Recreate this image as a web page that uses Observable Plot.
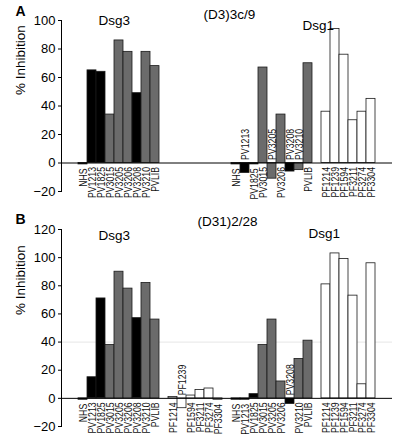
<!DOCTYPE html>
<html><head><meta charset="utf-8">
<script src="https://cdn.jsdelivr.net/npm/d3@7"></script>
<script src="https://cdn.jsdelivr.net/npm/@observablehq/plot@0.6"></script>
<style>
body{margin:0;background:#fff;}
#chart svg{display:block;overflow:visible;}
</style></head><body><div id="chart"></div>
<script>
// ---- data ----
const groups = ["Dsg3", "Dsg1"];
const pvClones = ["NHS","PV1213","PV1825","PV3015","PV3205","PV3206","PV3208","PV3210","PVLIB"];
const pfClones = ["PF1214","PF1239","PF1594","PF3211","PF3274","PF3304"];
const pvKinds = ["control","mucosal","mucosal","mucocutaneous","mucocutaneous","mucocutaneous","mucosal","mucocutaneous","mucocutaneous"];
const pfKind = "foliaceus";
const kindDomain = ["control","mucosal","mucocutaneous","foliaceus"];

const mabA = "(D3)3c/9";
const aDsg3PV = [-1, 65, 64, 34, 86, 78, 49, 78, 68];
const aDsg3PF = [null, null, null, null, null, null];
const aDsg1PV = [-1, -7, -1, 67, -11, 34, -6, -5, 70];
const aDsg1PF = [36, 94, 76, 30, 36, 45];
const yTicksA = [-20, 0, 20, 40, 60, 80, 100];

const mabB = "(D31)2/28";
const bDsg3PV = [-1, 15, 71, 38, 90, 78, 57, 82, 56];
const bDsg3PF = [1, -7, 2, 6, 7, -1];
const bDsg1PV = [-1, -1, 3, 38, 56, 12, -4, 28, 41];
const bDsg1PF = [81, 103, 99, 73, 10, 96];
const yTicksB = [-20, 0, 20, 40, 60, 80, 100, 120];

// ---- build slots ----
const slots = [];
groups.forEach((g, gi) => {
  pvClones.forEach(c => slots.push(g + "|" + c));
  slots.push(g + "|gap");
  pfClones.forEach(c => slots.push(g + "|" + c));
  if (gi < groups.length - 1) slots.push("between|gap");
});

function rows(pv3, pf3, pv1, pf1) {
  const out = [];
  [[pv3, pf3], [pv1, pf1]].forEach(([pv, pf], gi) => {
    pv.forEach((v, i) => { if (v != null) out.push({key: groups[gi] + "|" + pvClones[i], clone: pvClones[i], v, kind: pvKinds[i]}); });
    pf.forEach((v, i) => { if (v != null) out.push({key: groups[gi] + "|" + pfClones[i], clone: pfClones[i], v, kind: pfKind}); });
  });
  return out;
}

const FONT = "'Liberation Sans', Arial, Helvetica, sans-serif";

function panel({letter, mab, data, yTicks, height, marginTop, marginBottom, titles, faint}) {
  const above = data.filter(d => d.v < -2);
  const below = data.filter(d => d.v >= -2);
  return Plot.plot({
    width: 407,
    height,
    marginLeft: 61,
    marginRight: 15,
    marginTop,
    marginBottom,
    style: {fontFamily: FONT, fontSize: "13px", color: "#000", background: "#fff", overflow: "visible"},
    x: {type: "band", domain: slots, paddingInner: 0, paddingOuter: 0.62, axis: null},
    y: {domain: [yTicks[0], yTicks[yTicks.length - 1]], axis: null},
    color: {domain: kindDomain, range: ["#000", "#000", "#6b6b6b", "#fff"]},
    marks: [
      faint ? Plot.ruleY([40], {stroke: "#ebebeb", strokeWidth: 1.2}) : null,
      Plot.barY(data, {x: "key", y: "v", fill: "kind", stroke: "#1a1a1a", strokeWidth: 0.8}),
      Plot.ruleY([0], {stroke: "#000", strokeWidth: 1}),
      Plot.frame({anchor: "left", stroke: "#000"}),
      Plot.axisY({ticks: yTicks, tickSize: 3, tickPadding: 3, label: null, fontSize: 13, fontFamily: FONT,
        tickFormat: d => d < 0 ? "\u2212" + Math.abs(d) : String(d)}),
      Plot.text(["% Inhibition"], {frameAnchor: "left", rotate: -90, dx: -41, dy: titles.labelDy, fontSize: 13.5, fontFamily: FONT}),
      Plot.text(below, {x: "key", y: d => Math.min(d.v, 0), text: "clone", rotate: -90, textAnchor: "end", lineAnchor: "middle", dy: 4, fontSize: 11.5, fontFamily: FONT, fill: "#111", className: "xlab"}),
      Plot.text(above, {x: "key", y: 0, text: "clone", rotate: -90, textAnchor: "start", lineAnchor: "middle", dy: -3, fontSize: 11.5, fontFamily: FONT, fill: "#111", className: "xlab"}),
      Plot.text([letter], {frameAnchor: "top-left", textAnchor: "start", lineAnchor: "bottom", dx: -46, dy: titles.letterDy, fontSize: 14, fontWeight: "bold", fontFamily: FONT}),
      Plot.text([mab], {frameAnchor: "top-left", textAnchor: "start", lineAnchor: "bottom", dx: titles.mabDx, dy: titles.mabDy, fontSize: 13.5, fontFamily: FONT}),
      Plot.text([groups[0]], {frameAnchor: "top-left", textAnchor: "start", lineAnchor: "bottom", dx: 37, dy: titles.g3Dy, fontSize: 13.5, fontFamily: FONT}),
      Plot.text([groups[1]], {frameAnchor: "top-left", textAnchor: "start", lineAnchor: "bottom", dx: titles.g1Dx, dy: titles.g1Dy, fontSize: 13.5, fontFamily: FONT})
    ]
  });
}

const el = document.getElementById("chart");
el.append(panel({
  letter: "A", mab: mabA, data: rows(aDsg3PV, aDsg3PF, aDsg1PV, aDsg1PF), yTicks: yTicksA,
  height: 215, marginTop: 20, marginBottom: 24, faint: false,
  titles: {labelDy: -11, letterDy: -5, mabDx: 142, mabDy: -2, g3Dy: 4, g1Dx: 241, g1Dy: 9}
}));
el.append(panel({
  letter: "B", mab: mabB, data: rows(bDsg3PV, bDsg3PF, bDsg1PV, bDsg1PF), yTicks: yTicksB,
  height: 230, marginTop: 14, marginBottom: 19, faint: true,
  titles: {labelDy: -13, letterDy: -6, mabDx: 136, mabDy: -4, g3Dy: 10, g1Dx: 247, g1Dy: 8}
}));
// condense the rotated clone labels (narrow typeface look) along their text direction
el.querySelectorAll(".xlab text").forEach(t => {
  const len = t.getComputedTextLength();
  if (len > 0) {
    t.setAttribute("textLength", (len * 0.76).toFixed(2));
    t.setAttribute("lengthAdjust", "spacingAndGlyphs");
  }
});
</script></body></html>
